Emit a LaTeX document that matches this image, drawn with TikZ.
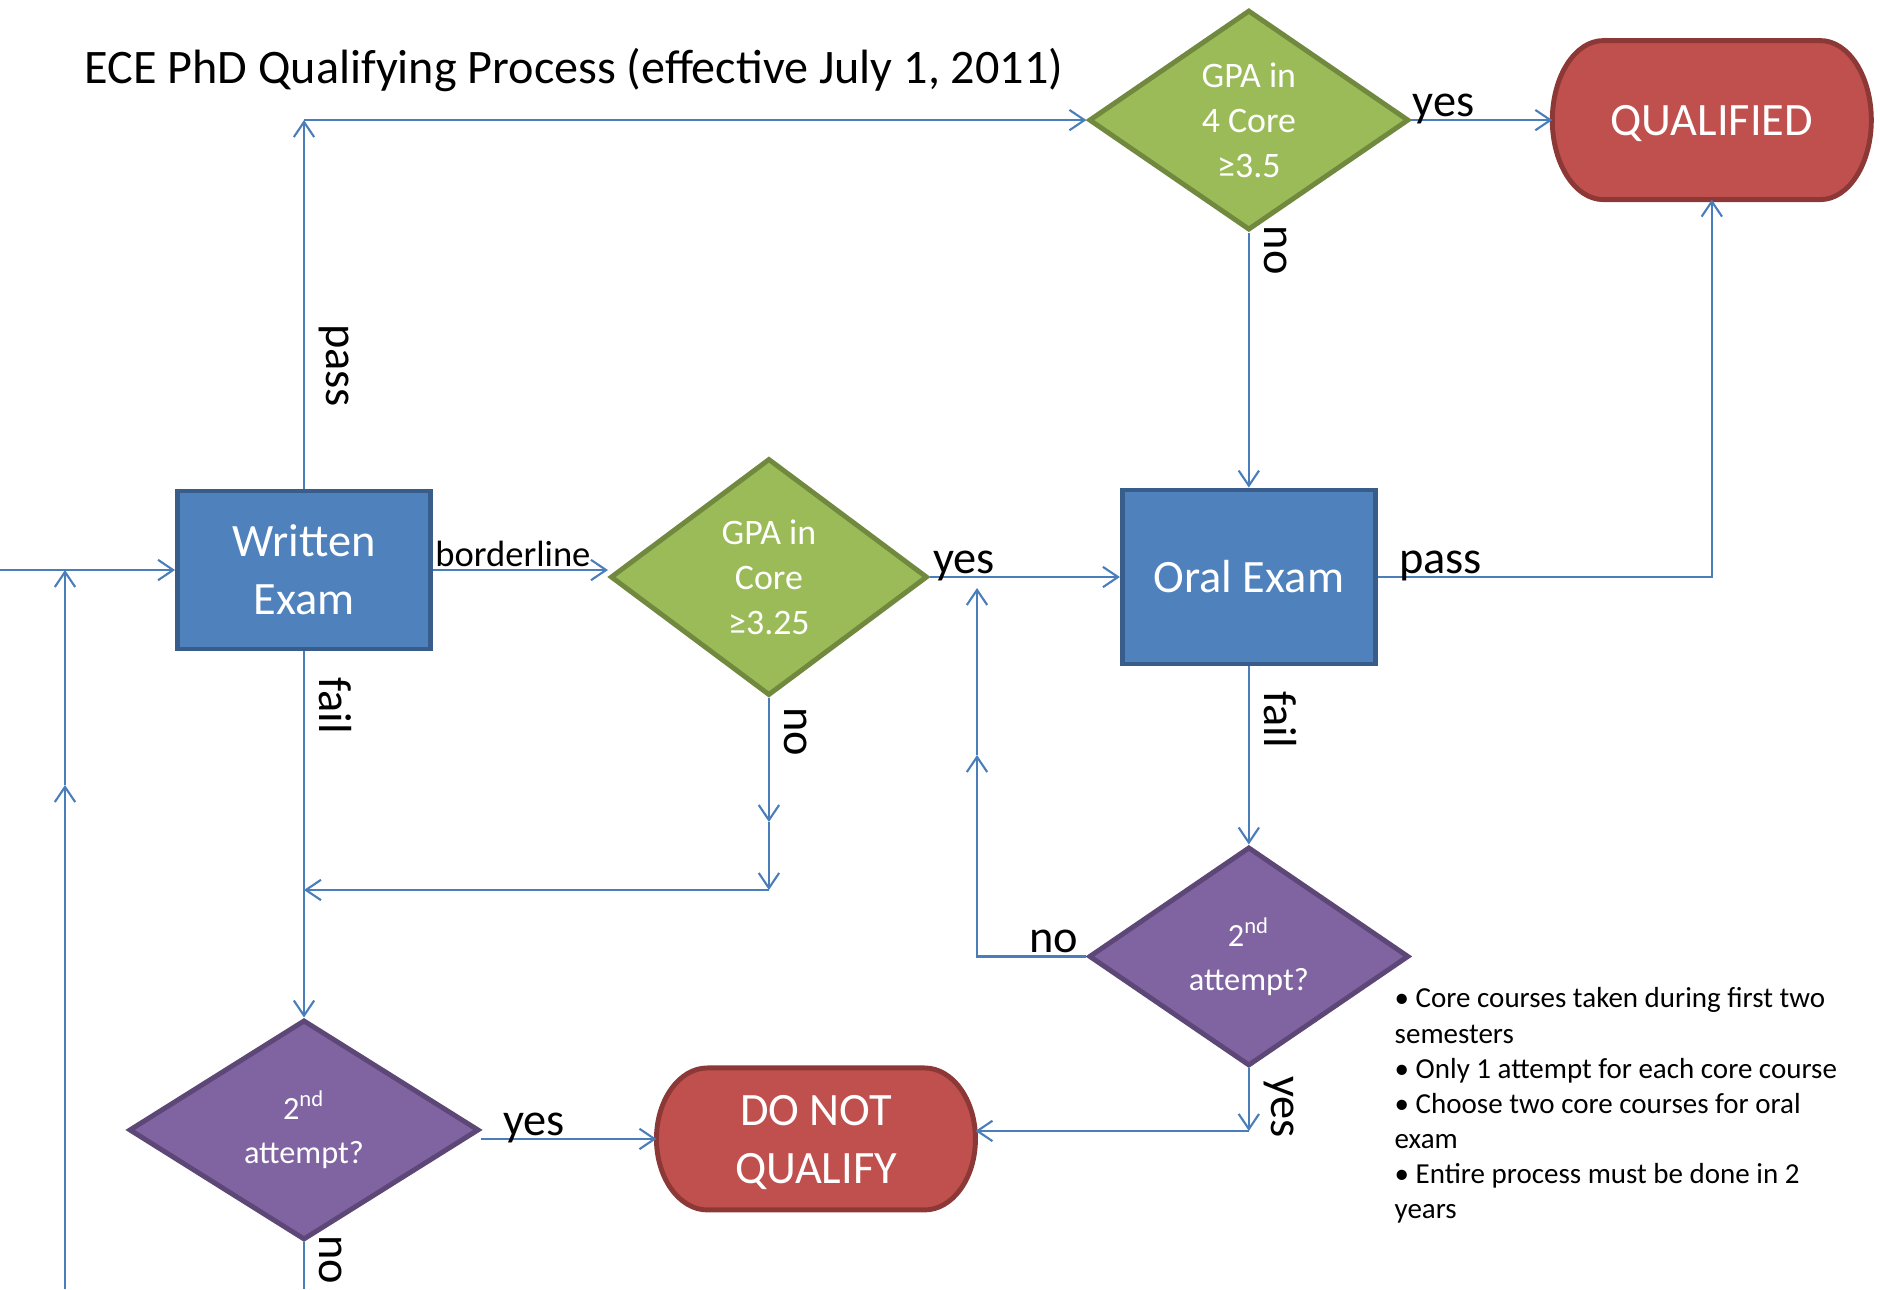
\documentclass[tikz,border=0pt]{standalone}
\usepackage{fontspec}
\setmainfont{Carlito}
\usetikzlibrary{arrows.meta, positioning, shapes.geometric, backgrounds}

\definecolor{procfill}{HTML}{4F81BD}
\definecolor{procline}{HTML}{385D8A}
\definecolor{gpafill}{HTML}{9BBB59}
\definecolor{gpaline}{HTML}{71893F}
\definecolor{endfill}{HTML}{C0504D}
\definecolor{endline}{HTML}{8C3836}
\definecolor{tryfill}{HTML}{8064A2}
\definecolor{tryline}{HTML}{5C4776}
\definecolor{linkblue}{HTML}{4A7EBB}

\begin{document}
\begin{tikzpicture}[
    process/.style={draw=procline, fill=procfill, line width=1.4pt, text=white,
                    minimum width=2.53cm, align=center, inner sep=0pt,
                    font=\fontsize{13.2}{16.5}\selectfont},
    gpacheck/.style={diamond, aspect=1.45, draw=gpaline, fill=gpafill, line width=1.4pt,
                    text=white, align=center, inner sep=0pt,
                    font=\fontsize{10.2}{12.8}\selectfont},
    retry/.style={diamond, aspect=1.5, draw=tryline, fill=tryfill, line width=1.4pt,
                    text=white, align=center, inner sep=0pt,
                    font=\fontsize{9.2}{12.5}\selectfont},
    terminal/.style={minimum width=3.19cm, inner sep=0pt, outer sep=0pt, text=white,
                    text depth=0pt, align=center, font=\fontsize{13.2}{16.5}\selectfont},
    endshape/.style={draw=endline, fill=endfill, line width=1.4pt},
    link/.style={draw=linkblue, line width=0.6pt},
    flow/.style={link, -{Straight Barb[length=4.3pt, width=5.8pt]}},
    lbl/.style={font=\fontsize{13.2}{15}\selectfont, anchor=base, yshift=1pt},
    vlbl/.style={font=\fontsize{13.2}{15}\selectfont, rotate=-90, anchor=south, inner sep=4pt},
    notetext/.style={align=left, inner sep=0pt, font=\fontsize{8.25}{10}\selectfont}]

    \useasboundingbox (0,0) rectangle (18.80,-12.89);

    % Title
    \node[anchor=west, inner sep=0pt, font=\fontsize{13.7}{16}\selectfont] (title) at (0.84,-0.70)
        {ECE PhD Qualifying Process (effective July 1, 2011)};

    % Exams and checks
    \node[process, minimum height=1.58cm] (written) at (3.04,-5.70) {Written\\Exam};
    \node[gpacheck, minimum width=3.17cm, minimum height=2.37cm,
          right=1.75cm of written, yshift=-0.07cm] (gpacore) {GPA in\\Core\\≥3.25};
    \node[process, minimum height=1.74cm, right=1.90cm of gpacore] (oral) {Oral Exam};
    \node[gpacheck, minimum width=3.20cm, minimum height=2.20cm,
          above=2.55cm of oral] (gpafour) {GPA in\\4 Core\\≥3.5};
    \node[terminal, minimum height=1.59cm, right=1.41cm of gpafour] (qualified) {QUALIFIED};
    \node[retry, minimum width=3.20cm, minimum height=2.19cm,
          below=1.78cm of oral] (oraltry) {2\textsuperscript{nd}\\attempt?};
    \node[retry, minimum width=3.50cm, minimum height=2.20cm,
          below=3.66cm of written] (writtry) {2\textsuperscript{nd}\\attempt?};
    \node[terminal, minimum height=1.42cm, right=1.75cm of writtry, yshift=-0.09cm]
          (noqual) {DO NOT\\QUALIFY};

    % Terminator outlines
    \begin{scope}[on background layer]
        \path[endshape] ([xshift=5.1mm]qualified.north west) -- ([xshift=-5.1mm]qualified.north east)
            arc[start angle=90, end angle=-90, x radius=5.1mm, y radius=7.95mm]
            -- ([xshift=5.1mm]qualified.south west)
            arc[start angle=270, end angle=90, x radius=5.1mm, y radius=7.95mm] -- cycle;
        \path[endshape] ([xshift=5.1mm]noqual.north west) -- ([xshift=-5.1mm]noqual.north east)
            arc[start angle=90, end angle=-90, x radius=5.1mm, y radius=7.1mm]
            -- ([xshift=5.1mm]noqual.south west)
            arc[start angle=270, end angle=90, x radius=5.1mm, y radius=7.1mm] -- cycle;
    \end{scope}

    % Notes
    \node[notetext, anchor=north west] (notes) at (13.94,-9.87)
        {• Core courses taken during first two\\semesters\\• Only 1 attempt for each core course\\
         • Choose two core courses for oral\\exam\\• Entire process must be done in 2\\years};

    % Entry and loop back
    \coordinate (entry) at (0,-5.70);
    \coordinate (loopbot) at (0.65,-12.89);
    \coordinate (loopmid) at (0.65,-7.85);
    \draw[flow] (entry) -- (written.west);
    \draw[flow] (loopbot) -- (loopmid);
    \draw[flow] (loopmid) -- (loopmid |- entry);

    % Written exam outcomes
    \coordinate (passtop) at (written.north |- gpafour.west);
    \draw[flow] (written.north) -- (passtop) node[vlbl, pos=0.334] {pass};
    \draw[flow] (passtop) -- (gpafour.west);
    \draw[flow] (written.east) -- (written.east -| gpacore.west)
        node[lbl, pos=0.457, font=\fontsize{10.4}{12}\selectfont] {borderline};
    \draw[flow] (written.south) -- (writtry.north) node[vlbl, pos=0.148] {fail};

    % GPA checks
    \draw[flow] (gpafour.east) -- (qualified.west) node[lbl, pos=0.23] {yes};
    \draw[flow] (gpafour.south) -- (oral.north) node[vlbl, pos=0.07] {no};
    \draw[flow] (gpacore.east) -- (gpacore.east -| oral.west) node[lbl, pos=0.18] {yes};
    \coordinate[below=1.24cm of gpacore.south] (nomid);
    \coordinate[below=0.68cm of nomid] (nobend);
    \draw[flow] (gpacore.south) -- (nomid) node[vlbl, pos=0.27] {no};
    \draw[flow] (nomid) -- (nobend);
    \draw[flow] (nobend) -- (nobend -| written.south);

    % Oral exam outcomes
    \draw[flow] (oral.east) -| (qualified.south) node[lbl, pos=0.094] {pass};
    \draw[flow] (oral.south) -- (oraltry.north) node[vlbl, pos=0.30] {fail};
    \coordinate (retmid) at (9.77,-7.55);
    \coordinate (rettop) at (9.77,-5.88);
    \draw[flow] (oraltry.west) -| (retmid) node[lbl, pos=0.148] {no};
    \draw[flow] (retmid) -- (rettop);
    \coordinate[yshift=0.08cm] (failend) at (oraltry.south |- noqual.east);
    \draw[flow] (oraltry.south) -- (failend) node[vlbl, pos=0.62] {yes};
    \draw[flow] (failend) -- (failend -| noqual.east);

    % Written exam retry
    \draw[flow] (writtry.east |- noqual.west) -- (noqual.west) node[lbl, pos=0.3] {yes};
    \draw[link] (writtry.south) -- (writtry.south |- loopbot) node[vlbl, pos=0.375] {no};
\end{tikzpicture}
\end{document}
